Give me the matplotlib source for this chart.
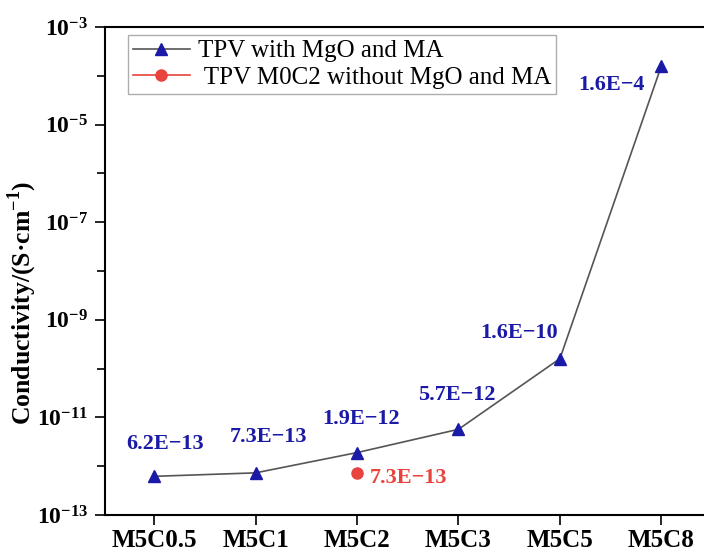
import numpy as np
import matplotlib
matplotlib.use('Agg')
from matplotlib import pyplot as plt
from matplotlib.lines import Line2D
from matplotlib.ticker import FixedLocator, FuncFormatter

plt.rcParams['font.family'] = ['Liberation Serif', 'DejaVu Serif']
plt.rcParams['mathtext.fontset'] = 'custom'
plt.rcParams['mathtext.rm'] = 'Liberation Serif'
plt.rcParams['mathtext.bf'] = 'Liberation Serif:bold'

samples = ['M5C0.5', 'M5C1', 'M5C2', 'M5C3', 'M5C5', 'M5C8']
conductivity = [6.2e-13, 7.3e-13, 1.9e-12, 5.7e-12, 1.6e-10, 1.6e-4]
value_labels = ['6.2E\u221213', '7.3E\u221213', '1.9E\u221212', '5.7E\u221212', '1.6E\u221210', '1.6E\u22124']
ref_sample = 'M5C2'
ref_conductivity = 7.3e-13
ref_label = '7.3E\u221213'

blue = '#1a1aa6'
red = '#e8433c'

fig = plt.figure(figsize=(7.04, 5.54), dpi=100)
ax = fig.add_axes([0.149, 0.0704, 0.851, 0.8809])

x = np.arange(len(samples))
ax.plot(x, conductivity, color='#555555', lw=1.2, marker='^', ms=9,
        mfc=blue, mec=blue)
xr = samples.index(ref_sample)
ax.plot([xr], [ref_conductivity], color=red, marker='o', ms=8, ls='none')

handles = [Line2D([], [], color='#555555', lw=1.2, marker='^', ms=9, mfc=blue, mec=blue),
           Line2D([], [], color=red, lw=1.2, marker='o', ms=8)]
leg = ax.legend(handles, ['TPV with MgO and MA', ' TPV M0C2 without MgO and MA'],
                loc='upper left', bbox_to_anchor=(0.038, 0.984), fontsize=18,
                frameon=True, fancybox=False, edgecolor='#999999',
                handlelength=2.3, handletextpad=0.3, borderpad=0.2,
                labelspacing=0.15, borderaxespad=0)
leg.get_frame().set_linewidth(1.0)

# value labels (offsets in points from each marker)
offsets = [(8, 23), (9, 26), (3, 24.5), (-1, 24.5), (-29.5, 18.5), (-36, -14)]
for xi, yi, lab, off in zip(x, conductivity, value_labels, offsets):
    ax.annotate(lab, (xi, yi), xytext=off, textcoords='offset points',
                ha='center', va='center', color=blue, fontsize=16, fontweight='bold')
ax.annotate(ref_label, (xr, ref_conductivity), xytext=(9.4, -3.6), textcoords='offset points',
            ha='left', va='center', color=red, fontsize=16, fontweight='bold')

ax.set_yscale('log')
ax.set_ylim(1e-13, 1e-3)
ax.set_xlim(-0.485, 5.42)
ax.yaxis.set_major_locator(FixedLocator([10.0**e for e in range(-13, -2, 2)]))
ax.yaxis.set_minor_locator(FixedLocator([10.0**e for e in range(-12, -3, 2)]))
ax.yaxis.set_major_formatter(FuncFormatter(lambda v, p: r'$\mathbf{10^{%d}}$' % round(np.log10(v))))
ax.yaxis.set_minor_formatter(FuncFormatter(lambda v, p: ''))
ax.set_xticks(x)
ax.set_xticklabels(samples, fontsize=18, fontweight='bold')
ax.tick_params(axis='y', which='major', labelsize=17, length=7, width=1.2, direction='out', pad=5)
ax.tick_params(axis='y', which='minor', length=5.5, width=1.2, direction='out')
ax.tick_params(axis='x', length=7, width=1.2, direction='out', pad=3)
ax.set_ylabel('Conductivity/(S\u00b7cm$^{\\mathbf{-1}}$)', fontsize=18.5, fontweight='bold',
              va='center')
ax.yaxis.set_label_coords(-0.138, 0.434)

for s in ['left', 'bottom', 'top']:
    ax.spines[s].set_linewidth(1.5)
ax.spines['right'].set_visible(False)

fig.savefig('out.png', dpi=100)
